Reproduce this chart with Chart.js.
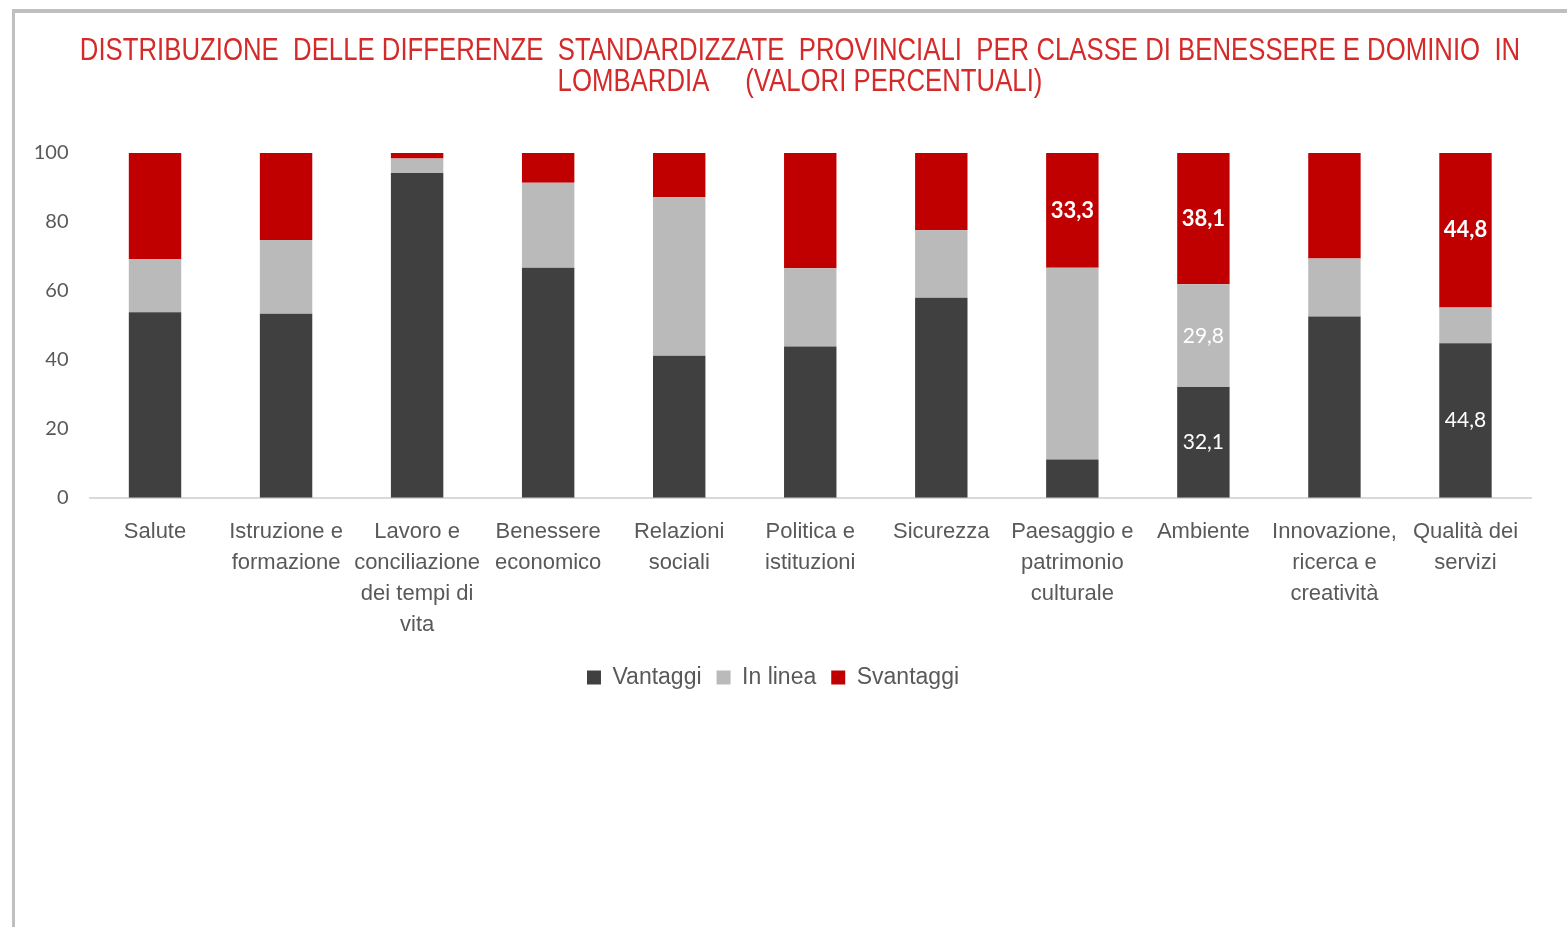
<!DOCTYPE html>
<html>
<head>
<meta charset="utf-8">
<script src="https://cdn.jsdelivr.net/npm/chart.js@4.4.1/dist/chart.umd.min.js"></script>
<style>
  html, body { margin: 0; padding: 0; background: #fff; overflow: hidden; }
  #box {
    position: absolute; left: 12px; top: 9px;
    width: 1570px; height: 918px;
    border-top: 4px solid #bfbfbf; border-left: 3px solid #bfbfbf;
  }
  #chart { display: block; }
</style>
</head>
<body>
<div id="box"><canvas id="chart" width="1570" height="918"></canvas></div>
<script>
const categories = [
    'Salute',
    ['Istruzione e', 'formazione'],
    ['Lavoro e', 'conciliazione', 'dei tempi di', 'vita'],
    ['Benessere', 'economico'],
    ['Relazioni', 'sociali'],
    ['Politica e', 'istituzioni'],
    'Sicurezza',
    ['Paesaggio e', 'patrimonio', 'culturale'],
    'Ambiente',
    ['Innovazione,', 'ricerca e', 'creatività'],
    ['Qualità dei', 'servizi']
];
const vantaggi   = [53.8, 53.4, 94.2, 66.7, 41.2, 43.9, 58.0, 11.1, 32.1, 52.6, 44.8];
const inLinea    = [15.4, 21.4, 4.2, 24.7, 46.0, 22.7, 19.6, 55.6, 29.8, 16.8, 10.4];
const svantaggi  = [30.8, 25.2, 1.6, 8.6, 12.8, 33.4, 22.4, 33.3, 38.1, 30.6, 44.8];

// only these values are printed on the bars
const showVantaggi  = [null, null, null, null, null, null, null, null, '32,1', null, '44,8'];
const showInLinea   = [null, null, null, null, null, null, null, null, '29,8', null, null];
const showSvantaggi = [null, null, null, null, null, null, null, '33,3', '38,1', null, '44,8'];

const titleLines = [
    'DISTRIBUZIONE  DELLE DIFFERENZE  STANDARDIZZATE  PROVINCIALI  PER CLASSE DI BENESSERE E DOMINIO  IN',
    'LOMBARDIA     (VALORI PERCENTUALI)'
];

const narrow = "'Liberation Sans Narrow', 'Arial Narrow', 'Liberation Sans', Arial, sans-serif";
const gill = "Lato, 'Open Sans', sans-serif";

// condensed title, like the narrow font of the original
const narrowTitle = {
    id: 'narrowTitle',
    afterDraw(chart) {
        const ctx = chart.ctx;
        ctx.save();
        ctx.fillStyle = '#d42a2a';
        ctx.font = '32px ' + narrow;
        ctx.textAlign = 'center';
        ctx.textBaseline = 'middle';
        ctx.translate(785, 0);
        ctx.scale(0.805, 1);
        ctx.fillText(titleLines[0], 0, 38);
        ctx.fillText(titleLines[1], 0, 69);
        ctx.restore();
    }
};

const barLabels = {
    id: 'barLabels',
    afterDatasetsDraw(chart) {
        const ctx = chart.ctx;
        const shows = [showVantaggi, showInLinea, showSvantaggi];
        ctx.save();
        ctx.textAlign = 'center';
        ctx.textBaseline = 'middle';
        ctx.fillStyle = '#ffffff';
        chart.data.datasets.forEach((ds, i) => {
            const meta = chart.getDatasetMeta(i);
            meta.data.forEach((bar, j) => {
                const txt = shows[i][j];
                if (!txt) return;
                ctx.font = (i == 2 ? 'bold 22px ' : '21px ') + gill;
                ctx.fillText(txt, bar.x, (bar.y + bar.base) / 2);
            });
        });
        ctx.restore();
    }
};

const ctx = document.getElementById('chart');
new Chart(ctx, {
    type: 'bar',
    data: {
        labels: categories,
        datasets: [
            { label: 'Vantaggi', data: vantaggi, backgroundColor: '#404040' },
            { label: 'In linea', data: inLinea, backgroundColor: '#bababa' },
            { label: 'Svantaggi', data: svantaggi, backgroundColor: '#c00000' }
        ]
    },
    options: {
        responsive: false,
        animation: false,
        layout: { padding: { left: 0, right: 54, top: 140, bottom: 232 } },
        datasets: {
            bar: { barPercentage: 0.4, categoryPercentage: 1 }
        },
        plugins: {
            title: { display: false },
            legend: {
                position: 'bottom',
                labels: {
                    boxWidth: 14,
                    boxHeight: 14,
                    padding: 15,
                    color: '#595959',
                    font: { family: narrow, size: 23 }
                }
            },
            tooltip: { enabled: false }
        },
        scales: {
            x: {
                stacked: true,
                grid: { display: false },
                border: { color: '#d9d9d9', width: 2 },
                ticks: {
                    color: '#595959',
                    padding: 11,
                    maxRotation: 0,
                    autoSkip: false,
                    font: { family: narrow, size: 22, lineHeight: 1.4 }
                }
            },
            y: {
                stacked: true,
                min: 0,
                max: 100,
                grid: { display: false, drawTicks: false },
                border: { display: false },
                afterFit: (s) => { s.width = 74.5; },
                ticks: {
                    stepSize: 20,
                    padding: 21,
                    color: '#595959',
                    font: { family: gill, size: 20 }
                }
            }
        }
    },
    plugins: [barLabels, narrowTitle]
});
</script>
</body>
</html>
